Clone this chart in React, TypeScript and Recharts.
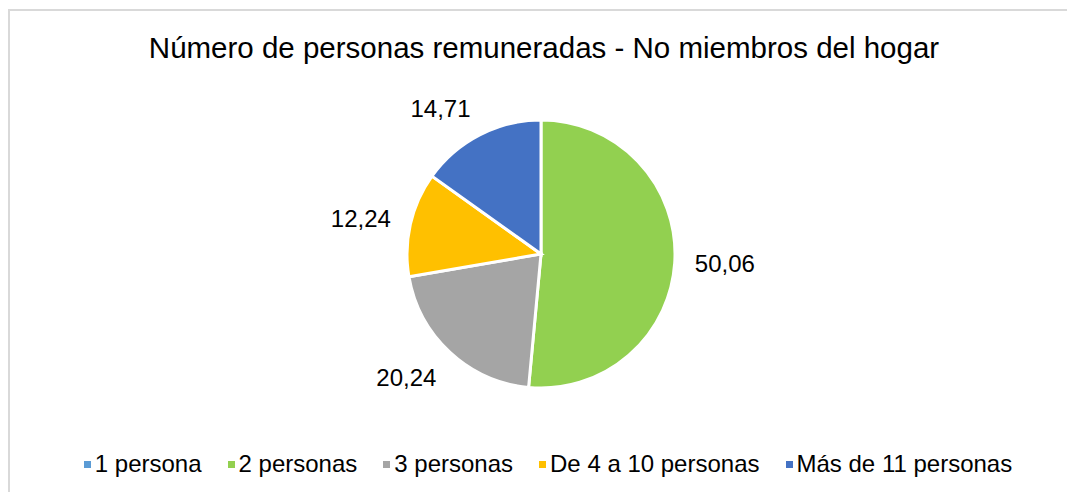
import { PieChart, Pie, Cell, Legend } from "recharts";

const categories = [
  "1 persona",
  "2 personas",
  "3 personas",
  "De 4 a 10 personas",
  "Más de 11 personas",
];
const values = [0, 50.06, 20.24, 12.24, 14.71];
const colors = ["#5B9BD5", "#92D050", "#A5A5A5", "#FFC000", "#4472C4"];

const data = categories.map((name, i) => ({ name, value: values[i] }));

const RAD = Math.PI / 180;
const font = "'Liberation Sans', Arial, sans-serif";

const formatValue = (v: number) => v.toFixed(2).replace(".", ",");

// label box sits just outside the slice, on the side the slice faces
const renderLabel = (props: any) => {
  const { cx, cy, midAngle, outerRadius, value } = props;
  if (!value) return null;
  const dx = Math.cos(-midAngle * RAD);
  const dy = Math.sin(-midAngle * RAD);
  const r = outerRadius + 20;
  const x = cx + r * dx;
  const y = cy + r * dy + dy * 12 + 2;
  return (
    <text
      x={x}
      y={y}
      fill="#000"
      fontSize={24}
      fontFamily={font}
      textAnchor={dx >= 0 ? "start" : "end"}
      dominantBaseline="central"
    >
      {formatValue(value)}
    </text>
  );
};

const renderLegend = () => (
  <div
    style={{
      display: "flex",
      justifyContent: "center",
      gap: 26,
      paddingLeft: 8,
      fontFamily: font,
      fontSize: 24,
      lineHeight: "28px",
      color: "#000",
      whiteSpace: "nowrap",
    }}
  >
    {categories.map((c, i) => (
      <div key={c} style={{ display: "flex", alignItems: "center" }}>
        <span
          style={{
            display: "inline-block",
            width: 7,
            height: 7,
            background: colors[i],
            marginRight: 4,
          }}
        />
        {c}
      </div>
    ))}
  </div>
);

export default function App() {
  return (
    <div
      style={{
        position: "fixed",
        top: 9,
        left: 8,
        right: 0,
        bottom: 0,
        borderLeft: "2px solid #d9d9d9",
        borderTop: "2px solid #d9d9d9",
        background: "#fff",
        overflow: "hidden",
      }}
    >
      <div
        style={{
          position: "absolute",
          top: 22,
          left: 0,
          width: 1068,
          textAlign: "center",
          fontFamily: font,
          fontSize: 29.5,
          lineHeight: "30px",
          color: "#000",
          whiteSpace: "nowrap",
        }}
      >
        Número de personas remuneradas - No miembros del hogar
      </div>
      <div style={{ position: "absolute", top: 0, left: 0 }}>
        <PieChart width={1068} height={481}>
          <Pie
            data={data}
            dataKey="value"
            nameKey="name"
            cx={526}
            cy={238}
            outerRadius={134}
            startAngle={90}
            endAngle={-270}
            stroke="#fff"
            strokeWidth={3}
            label={renderLabel}
            labelLine={false}
            isAnimationActive={false}
          >
            {data.map((d, i) => (
              <Cell key={d.name} fill={colors[i]} />
            ))}
          </Pie>
          <Legend
            content={renderLegend}
            wrapperStyle={{ position: "absolute", top: 439, left: 0, width: 1068 }}
          />
        </PieChart>
      </div>
    </div>
  );
}
